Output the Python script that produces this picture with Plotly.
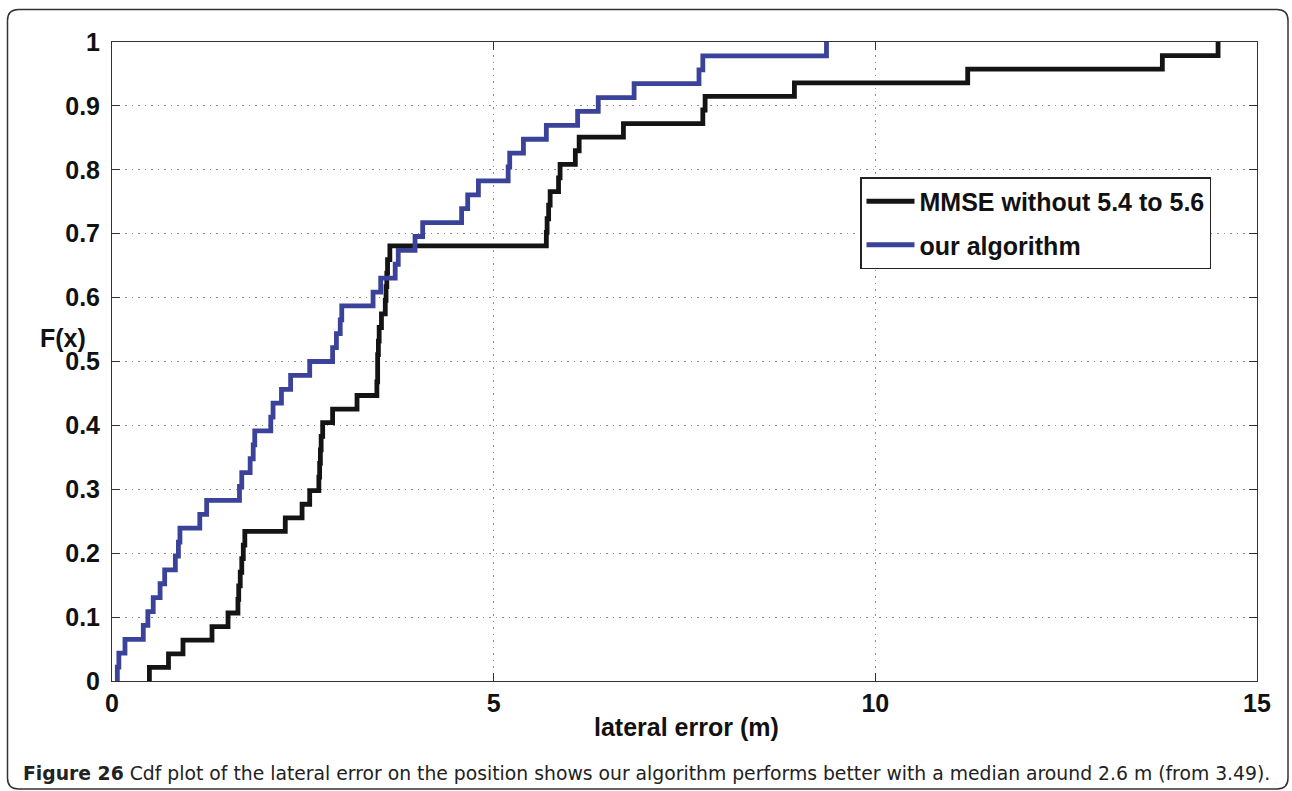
import plotly.graph_objects as go

# ---- data: sorted lateral error samples (m) ----
mmse_samples = [0.49, 0.74, 0.93, 1.31, 1.52, 1.65, 1.66, 1.68, 1.70, 1.72, 1.74,
                2.27, 2.49, 2.59, 2.71, 2.72, 2.73, 2.74, 2.76, 2.89, 3.21,
                3.47, 3.48, 3.48, 3.49, 3.50, 3.53, 3.58, 3.59, 3.60, 3.61, 3.64,
                5.69, 5.70, 5.72, 5.74, 5.85, 5.87, 6.07, 6.12, 6.70, 7.74, 7.77,
                8.94, 11.21, 13.76, 14.49]
ours_samples = [0.07, 0.09, 0.17, 0.41, 0.47, 0.54, 0.63, 0.69, 0.83, 0.87, 0.89,
                1.15, 1.24, 1.67, 1.70, 1.81, 1.85, 1.87, 2.08, 2.11, 2.22, 2.34,
                2.59, 2.89, 2.94, 2.99, 3.01, 3.42, 3.52, 3.71, 3.75, 3.97, 4.07,
                4.58, 4.66, 4.80, 5.19, 5.21, 5.39, 5.69, 6.10, 6.37, 6.84, 7.69,
                7.74, 9.36]
series_names = ["MMSE without 5.4 to 5.6", "our algorithm"]
series_colors = ["#141414", "#3a4299"]
x_ticks = [0, 5, 10, 15]
y_ticks = [0, 0.1, 0.2, 0.3, 0.4, 0.5, 0.6, 0.7, 0.8, 0.9, 1]
y_tick_labels = ["0", "0.1", "0.2", "0.3", "0.4", "0.5", "0.6", "0.7", "0.8", "0.9", "1"]
x_title = "lateral error (m)"
y_title = "F(x)"
caption_bold = "Figure 26"
caption_text = " Cdf plot of the lateral error on the position shows our algorithm performs better with a median around 2.6 m (from 3.49)."


def ecdf(samples):
    n = len(samples)
    xs = [samples[0]] + list(samples)
    ys = [0.0] + [(i + 1) / n for i in range(n)]
    return xs, ys


W, H = 1292, 791
L, R, T, B = 112, 1257, 42, 681   # plot area in pixels


def px(xp):
    return (xp - L) / (R - L)


def py(yp):
    return (B - yp) / (B - T)


fig = go.Figure()
for i, (samples, name, color) in enumerate(zip([mmse_samples, ours_samples], series_names, series_colors)):
    xs, ys = ecdf(samples)
    fig.add_trace(go.Scatter(x=xs, y=ys, mode="lines", name=name,
                             line=dict(color=color, width=4.8, shape="hv"),
                             legendgroup=f"g{i}"))

font_bold = dict(family="Liberation Sans, Arial, sans-serif", size=25, color="#111", weight="bold")

axis_common = dict(showline=True, linecolor="#333", linewidth=1, mirror="ticks",
                   ticks="inside", ticklen=8, tickcolor="#333",
                   showgrid=True, gridcolor="#8c8c8c", griddash="1.5px,5px", gridwidth=1,
                   zeroline=False, tickfont=font_bold)

fig.update_xaxes(range=[0, 15], tickvals=x_ticks, ticktext=[str(v) for v in x_ticks],
                 ticklabelstandoff=0, **axis_common)
fig.update_yaxes(range=[0, 1], tickvals=y_ticks, ticktext=y_tick_labels,
                 ticklabelstandoff=6, **axis_common)

fig.add_annotation(text=x_title, xref="paper", yref="paper", x=px(686), y=py(727),
                   xanchor="center", yanchor="middle", showarrow=False, font=font_bold)
fig.add_annotation(text=y_title, xref="paper", yref="paper", x=px(63), y=py(338),
                   xanchor="center", yanchor="middle", showarrow=False, font=font_bold)
fig.add_annotation(text=f"<b>{caption_bold}</b>{caption_text}", xref="paper", yref="paper",
                   x=px(21), y=py(773), xanchor="left", yanchor="middle", showarrow=False,
                   font=dict(family="DejaVu Sans, sans-serif", size=18.8, color="#222"))

# rounded outer frame
lft, top, rgt, bot, r = 7.5, 9.5, 1288, 789, 11
path = (f"M {px(lft + r)},{py(bot)} Q {px(lft)},{py(bot)} {px(lft)},{py(bot - r)} "
        f"L {px(lft)},{py(top + r)} "
        f"Q {px(lft)},{py(top)} {px(lft + r)},{py(top)} "
        f"L {px(rgt - r)},{py(top)} Q {px(rgt)},{py(top)} {px(rgt)},{py(top + r)} "
        f"L {px(rgt)},{py(bot - r)} Q {px(rgt)},{py(bot)} {px(rgt - r)},{py(bot)} Z")
fig.add_shape(type="path", path=path, xref="paper", yref="paper",
              line=dict(color="#333", width=1.5))

fig.update_layout(
    width=W, height=H,
    margin=dict(l=L, r=W - R, t=T, b=H - B),
    plot_bgcolor="white", paper_bgcolor="white",
    showlegend=True,
    legend=dict(x=px(860), y=py(177), xanchor="left", yanchor="top",
                bgcolor="white", bordercolor="#222", borderwidth=1.5,
                font=font_bold, tracegroupgap=8, itemwidth=48),
)

fig.write_html("out.html")
